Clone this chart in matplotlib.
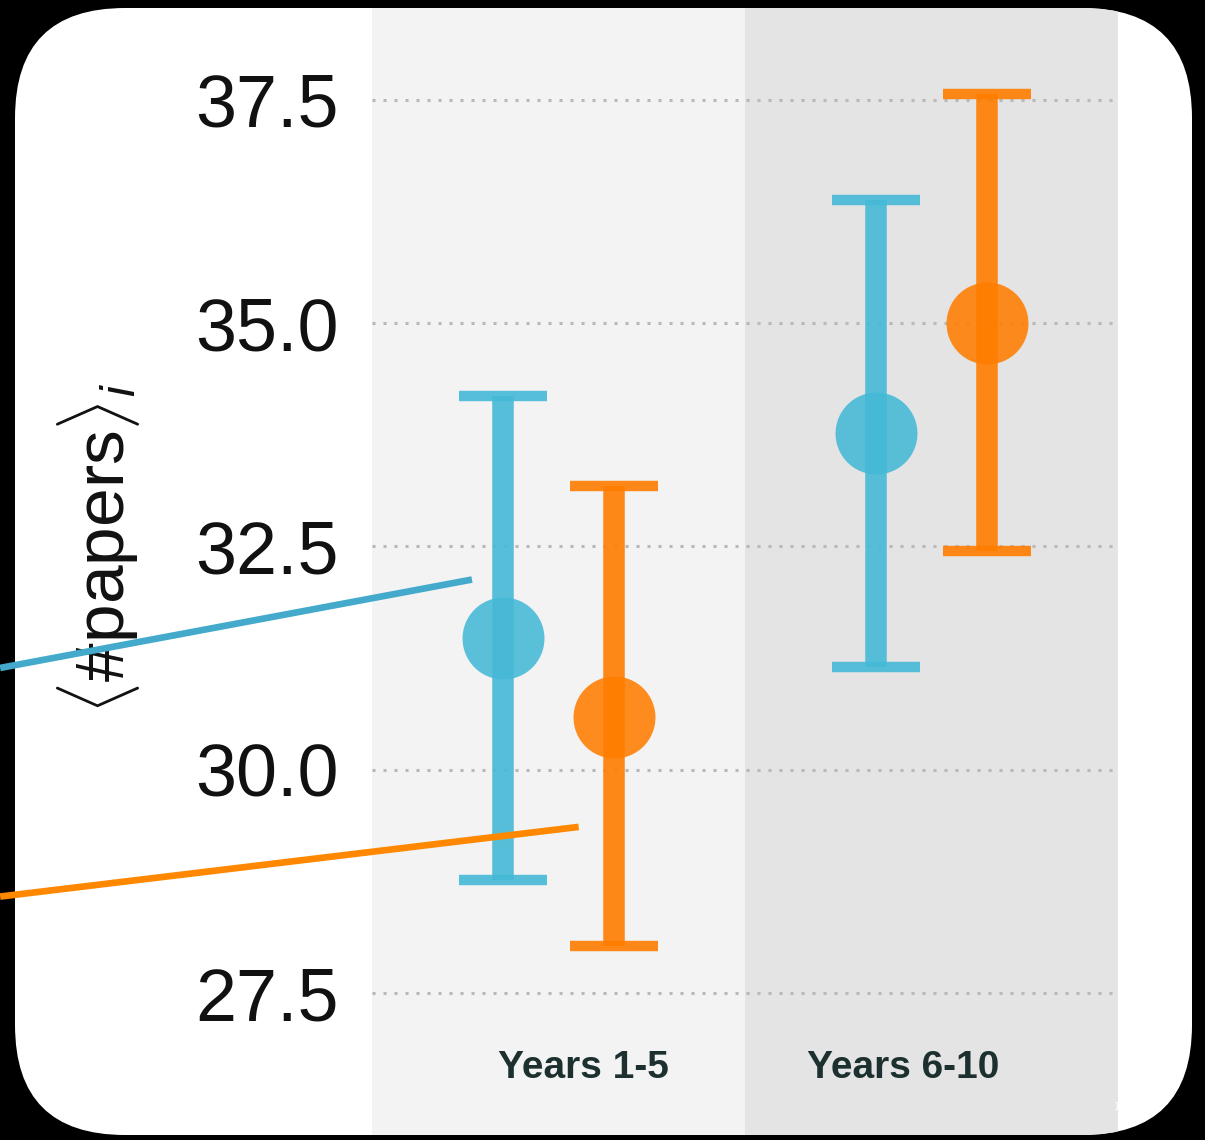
import matplotlib
matplotlib.use("Agg")
import matplotlib.pyplot as plt
from matplotlib.patches import FancyBboxPatch
import numpy as np

# ---- data ----
categories = ["Years 1-5", "Years 6-10"]
blue_mean = [31.48, 33.77]
blue_upper = [34.19, 36.38]
blue_lower = [28.77, 31.15]
orange_mean = [30.59, 35.00]
orange_upper = [33.18, 37.57]
orange_lower = [28.03, 32.45]
yticks = [27.5, 30.0, 32.5, 35.0, 37.5]
ytick_labels = ["27.5", "30.0", "32.5", "35.0", "37.5"]

# ---- style ----
BLUE = "#45b9d7"
ORANGE = "#ff7d00"
BLUE_LINE = "#44aacb"
ORANGE_LINE = "#ff8800"

plt.rcParams["mathtext.fontset"] = "custom"
plt.rcParams["mathtext.rm"] = "Liberation Sans"
plt.rcParams["mathtext.it"] = "Liberation Sans:italic"

W, H = 1205, 1140
fig = plt.figure(figsize=(W / 100, H / 100), dpi=100, facecolor="black")

panel = FancyBboxPatch((0.15, 0.05), 11.77, 11.27,
                       boxstyle="round,pad=0,rounding_size=1.1",
                       transform=fig.dpi_scale_trans,
                       facecolor="white", edgecolor="none", zorder=0)
fig.add_artist(panel)

ax_left, ax_right = 372 / W, 1118 / W
ax_bottom, ax_top = (H - 1135) / H, (H - 8) / H
ax = fig.add_axes([ax_left, ax_bottom, ax_right - ax_left, ax_top - ax_bottom])
ax.set_zorder(1)
ax.patch.set_visible(False)
ax.set_xlim(-0.5, 1.5)
ax.set_ylim(25.91, 38.53)

x = np.arange(len(categories))
band_colors = ["#f3f3f3", "#e4e4e4"]
for xi, c in zip(x, band_colors):
    sp = ax.axvspan(xi - 0.5, xi + 0.5, color=c, lw=0, zorder=0)
    sp.set_clip_path(panel)

for v in yticks:
    ax.axhline(v, color="#b8b8b8", lw=2.2, ls=(0, (1, 2.6)), zorder=0.5)

off = 0.15
for xs, m, lo, up, col in [(x - off, blue_mean, blue_lower, blue_upper, BLUE),
                           (x + off, orange_mean, orange_lower, orange_upper, ORANGE)]:
    m = np.array(m); lo = np.array(lo); up = np.array(up)
    ax.errorbar(xs, m, yerr=[m - lo, up - m], fmt="none", ecolor=col,
                elinewidth=15.5, capsize=31.5, capthick=7.5, alpha=0.9, zorder=2)
    ax.plot(xs, m, "o", ms=59, color=col, mec="none", alpha=0.88, zorder=3)

ax.set_yticks(yticks)
ax.set_yticklabels(ytick_labels, fontsize=53, family="Liberation Sans", color="#111111")
ax.tick_params(axis="y", length=0, pad=24)
ax.set_xticks([])
for s in ax.spines.values():
    s.set_visible(False)

label_x = [0.068, 0.924]
for lx, name in zip(label_x, categories):
    ax.text(lx, 26.55, name, ha="center", va="baseline", fontsize=28,
            fontweight="bold", family="Liberation Sans",
            color="#1c3030", zorder=4)

# annotation lines
ax.plot([-1.497, -0.232], [31.14, 32.13], color=BLUE_LINE, lw=4.8, clip_on=False,
        zorder=6, solid_capstyle="butt")
ax.plot([-1.497, 0.054], [28.58, 29.36], color=ORANGE_LINE, lw=4.8, clip_on=False,
        zorder=6, solid_capstyle="butt")

fig.text(99 / W, 1 - 548 / H, r"$\langle$#papers$\rangle_i$", rotation=90,
         ha="center", va="center", fontsize=50, family="Liberation Sans",
         color="#111111", zorder=0.5)

fig.text(1117 / W, 1 - 1107 / H, "1", color="white", fontsize=7,
         ha="center", va="center", zorder=2)

fig.savefig("out.png", dpi=100, facecolor="black")
